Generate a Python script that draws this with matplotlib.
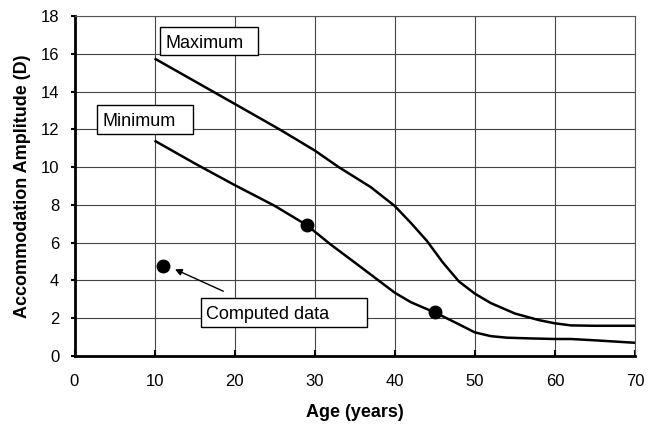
import matplotlib
matplotlib.use("Agg")
import matplotlib.pyplot as plt
from matplotlib.patches import Rectangle

plt.rcParams['font.family'] = ['Liberation Sans', 'DejaVu Sans']

# Data
max_age = [10, 15, 20, 25.6, 30, 33, 37, 40, 42, 44, 46, 48, 50, 52, 55, 58, 60, 62, 65, 70]
max_amp = [15.75, 14.55, 13.35, 12.0, 10.88, 10.0, 8.94, 7.94, 7.05, 6.1, 4.95, 3.95, 3.3, 2.8, 2.25, 1.9, 1.73, 1.62, 1.6, 1.6]

min_age = [10, 15, 20, 25, 29, 32, 35, 40, 42, 45, 46, 48, 50, 52, 54, 57, 60, 62, 65, 70]
min_amp = [11.4, 10.2, 9.05, 7.95, 6.93, 5.9, 4.95, 3.35, 2.85, 2.3, 2.1, 1.68, 1.25, 1.05, 0.97, 0.93, 0.9, 0.9, 0.83, 0.7]

comp_age = [11, 29, 45]
comp_amp = [4.75, 6.93, 2.31]

x_ticks = [0, 10, 20, 30, 40, 50, 60, 70]
y_ticks = [0, 2, 4, 6, 8, 10, 12, 14, 16, 18]

fig = plt.figure(figsize=(6.6, 4.24), dpi=100)
ax = fig.add_axes([74.5 / 660, 1 - 356 / 424, (635 - 74.5) / 660, (356 - 16) / 424])

ax.plot(max_age, max_amp, color='black', lw=1.8, solid_capstyle='butt', zorder=3)
ax.plot(min_age, min_amp, color='black', lw=1.8, solid_capstyle='butt', zorder=3)
ax.plot(comp_age, comp_amp, 'o', color='black', ms=9, zorder=4)

ax.set_xlim(0, 70)
ax.set_ylim(0, 18)
ax.set_xticks(x_ticks)
ax.set_yticks(y_ticks)
ax.grid(True, color='#444444', lw=0.8)
ax.set_axisbelow(True)

for s in ['left', 'bottom']:
    ax.spines[s].set_linewidth(2.0)
    ax.spines[s].set_color('black')
for s in ['top', 'right']:
    ax.spines[s].set_linewidth(0.8)
    ax.spines[s].set_color('#555555')

ax.tick_params(axis='x', direction='in', length=4, width=1.5, pad=13, labelsize=12)
ax.tick_params(axis='y', direction='out', length=3, width=1.5, pad=8, labelsize=12)

ax.set_xlabel('Age (years)', fontsize=13, fontweight='bold', labelpad=11)
ax.set_ylabel('Accommodation Amplitude (D)', fontsize=13, fontweight='bold', labelpad=7)

# Label boxes (annotations): (x0, y0, x1, y1) in data units, text
boxes = [
    (10.67, 15.93, 22.9, 17.42, 'Maximum'),
    (2.81, 11.75, 14.8, 13.29, 'Minimum'),
    (15.8, 1.54, 36.5, 3.07, 'Computed data'),
]
for x0, y0, x1, y1, label in boxes:
    ax.add_patch(Rectangle((x0, y0), x1 - x0, y1 - y0, facecolor='white',
                           edgecolor='black', lw=1.0, zorder=5))
    ax.text(x0 + 0.65, (y0 + y1) / 2, label, fontsize=13, va='center_baseline',
            ha='left', zorder=6)

ax.annotate('', xy=(12.55, 4.59), xytext=(18.58, 3.43),
            arrowprops=dict(arrowstyle='-|>', color='black', lw=1.0,
                            mutation_scale=10, shrinkA=0, shrinkB=0), zorder=5)

fig.savefig('out.png', dpi=100)
